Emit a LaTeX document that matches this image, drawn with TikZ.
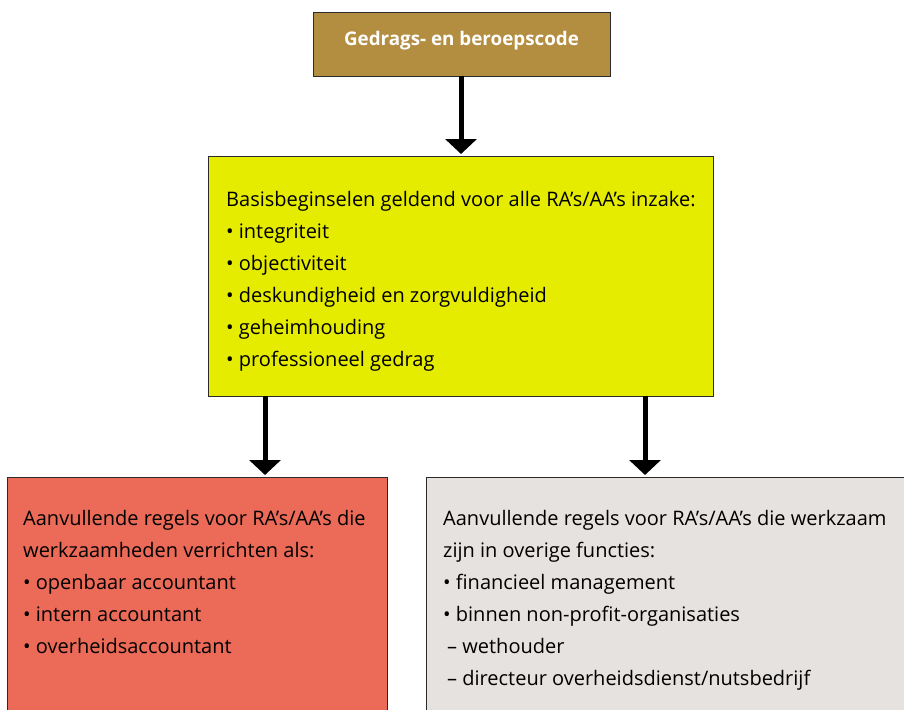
\documentclass[tikz,border=0pt]{standalone}
\usepackage{fontspec}
\setmainfont{Open Sans}
\usetikzlibrary{arrows.meta}
\definecolor{cbrown}{HTML}{B38E41}
\definecolor{cyellow}{HTML}{E6EC00}
\definecolor{cred}{HTML}{EB6A58}
\definecolor{cgray}{HTML}{E6E2DF}
\definecolor{cborder}{HTML}{2A2A2A}
\tikzset{
  boxstyle/.style={draw=cborder, line width=1pt},
  arr/.style={line width=5pt, -{Triangle[width=31pt,length=15pt]}, shorten >=2pt},
  txt/.style={anchor=north west, inner sep=0pt, align=left, font=\fontsize{20}{32}\selectfont},
}
\begin{document}
\begin{tikzpicture}[x=1pt,y=-1pt]
\useasboundingbox (0,0) rectangle (904,709);
\clip (0,0) rectangle (904,709);
\fill[white] (0,0) rectangle (904,709);
% boxes
\draw[boxstyle, fill=cbrown] (313,13) rectangle (610,76);
\node[font=\bfseries\fontsize{18.8}{20}\selectfont, text=white] (top) at (461.5,40.5) {Gedrags- en beroepscode};
\coordinate (topb) at (461,76);
\draw[boxstyle, fill=cyellow] (208,156) rectangle (713,396);
\coordinate (midt) at (461,156);
\coordinate (midbl) at (265,396);
\coordinate (midbr) at (645,396);
\draw[boxstyle, fill=cred] (7,477) rectangle (387,720);
\coordinate (lt) at (265,477);
\draw[boxstyle, fill=cgray] (426,477) rectangle (920,720);
\coordinate (rt) at (645,477);
% texts
\node[txt] (midtxt) at (226,191.5) {Basisbeginselen geldend voor alle RA’s/AA’s inzake:\\
• integriteit\\
• objectiviteit\\
• deskundigheid en zorgvuldigheid\\
• geheimhouding\\
• professioneel gedrag};
\node[txt] (lefttxt) at (23,510) {Aanvullende regels voor RA’s/AA’s die\\
werkzaamheden verrichten als:\\
• openbaar accountant\\
• intern accountant\\
• overheidsaccountant};
\node[txt] (righttxt) at (443,510) {Aanvullende regels voor RA’s/AA’s die werkzaam\\
zijn in overige functies:\\
• financieel management\\
• binnen non-profit-organisaties\\
\hspace*{4pt}– wethouder\\
\hspace*{4pt}– directeur overheidsdienst/nutsbedrijf};
% arrows
\draw[arr] (topb) -- (midt);
\draw[arr] (midbl) -- (lt);
\draw[arr] (midbr) -- (rt);
\end{tikzpicture}
\end{document}
